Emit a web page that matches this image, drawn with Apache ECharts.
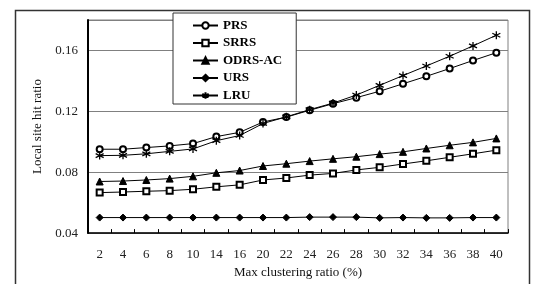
<!DOCTYPE html>
<html>
<head>
<meta charset="utf-8">
<script src="https://cdn.jsdelivr.net/npm/echarts@6/dist/echarts.min.js"></script>
<style>
html,body{margin:0;padding:0;background:#fff;}
#chart{width:537px;height:284px;}
</style>
</head>
<body>
<div id="chart"></div>
<script>
const categories = ['2','4','6','8','10','14','16','20','22','24','26','28','30','32','34','36','38','40'];
const yTicks = [0.04, 0.08, 0.12, 0.16];
const prs   = [0.0951,0.0951,0.0962,0.0973,0.0988,0.1034,0.1062,0.1130,0.1162,0.1207,0.1250,0.1290,0.1332,0.1381,0.1430,0.1481,0.1534,0.1585];
const srrs  = [0.0666,0.0670,0.0675,0.0679,0.0688,0.0704,0.0717,0.0749,0.0762,0.0781,0.0792,0.0815,0.0832,0.0854,0.0875,0.0898,0.0921,0.0945];
const odrs  = [0.0739,0.0742,0.0749,0.0758,0.0773,0.0796,0.0811,0.0841,0.0856,0.0873,0.0888,0.0902,0.0919,0.0934,0.0956,0.0977,0.0996,0.1022];
const urs   = [0.0502,0.0502,0.0502,0.0502,0.0502,0.0502,0.0502,0.0502,0.0502,0.0505,0.0505,0.0505,0.0500,0.0502,0.0500,0.0500,0.0502,0.0502];
const lru   = [0.0909,0.0911,0.0921,0.0937,0.0953,0.1007,0.1041,0.1120,0.1164,0.1211,0.1254,0.1307,0.1371,0.1435,0.1498,0.1562,0.1630,0.1700];
const seriesNames = ['PRS','SRRS','ODRS-AC','URS','LRU'];
</script>
<script>
const chart = echarts.init(document.getElementById('chart'), null, {renderer:'canvas'});
const font = '"Liberation Serif", "Times New Roman", serif';
const asterisk = 'path://M0,-5L0,5M-4.3,-2.5L4.3,2.5M-4.3,2.5L4.3,-2.5';
function mk(name, data, symbol, size, extra) {
  return Object.assign({
    name: name, type: 'line', data: data, symbol: symbol, symbolSize: size,
    showAllSymbol: true,
    lineStyle: {color:'#000', width:1},
    itemStyle: {color:'#000', borderColor:'#000', borderWidth:1},
    emphasis: {disabled:true},
    animation: false
  }, extra || {});
}
const option = {
  animation: false,
  graphic: [{
    type:'rect', left:13, top:8, shape:{width:514, height:290},
    style:{fill:'none', stroke:'#333', lineWidth:1.5}, z:-1
  }],
  grid: {left:88, top:20, right:29, bottom:44, show:true, borderColor:'#808080', borderWidth:1, backgroundColor:'transparent'},
  legend: {
    data: seriesNames,
    orient: 'vertical', left: 173, top: 13,
    backgroundColor:'#fff', borderColor:'#333', borderWidth:1,
    padding:[6,14,2,19], itemGap:4.5, itemWidth:25, itemHeight:8,
    textStyle:{fontFamily:font, fontWeight:'bold', fontSize:13, color:'#000', lineHeight:13},
    selectedMode:false
  },
  xAxis: {
    type:'category', data: categories, boundaryGap:true,
    name:'Max clustering ratio (%)', nameLocation:'middle', nameGap:29,
    nameTextStyle:{fontFamily:font, fontSize:13, color:'#111'},
    axisLine:{lineStyle:{color:'#000', width:1.5}},
    axisTick:{show:true, inside:true, length:4, lineStyle:{color:'#000'}},
    axisLabel:{fontFamily:font, fontSize:13, color:'#222', margin:15, interval:0},
    splitLine:{show:false}
  },
  yAxis: {
    type:'value', min:0.04, max:0.18, interval:0.04,
    name:'Local site hit ratio', nameLocation:'middle', nameGap:39,
    nameTextStyle:{fontFamily:font, fontSize:13, color:'#111'},
    axisLine:{show:true, lineStyle:{color:'#000', width:2}},
    axisTick:{show:false},
    axisLabel:{fontFamily:font, fontSize:13, color:'#222', margin:10,
      formatter: v => yTicks.some(t => Math.abs(t - v) < 1e-6) ? v.toFixed(2) : ''},
    splitLine:{show:true, lineStyle:{color:'#808080', width:1}}
  },
  series: [
    mk('PRS', prs, 'emptyCircle', 6),
    mk('SRRS', srrs, 'emptyRect', 6),
    mk('ODRS-AC', odrs, 'triangle', 7),
    mk('URS', urs, 'diamond', 7),
    mk('LRU', lru, asterisk, 8, {itemStyle:{color:'#000', borderColor:'#000', borderWidth:1.3}})
  ]
};
chart.setOption(option);
</script>
</body>
</html>
